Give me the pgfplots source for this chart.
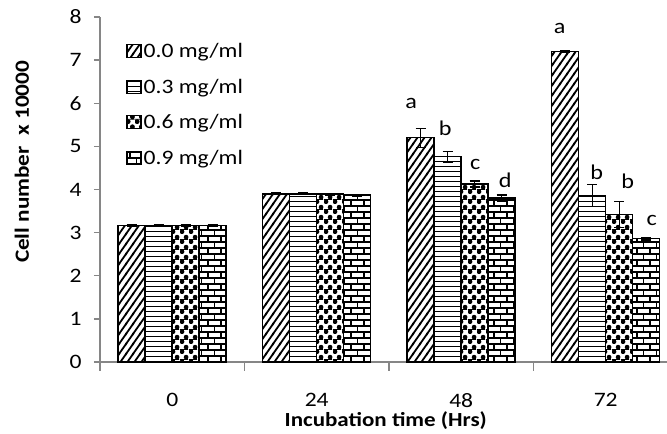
\documentclass[border=0pt]{standalone}
\usepackage{pgfplots}
\pgfplotsset{compat=1.18}
\usepackage{fontspec}
\setmainfont[FakeStretch=1.15]{Carlito}
\usetikzlibrary{patterns}

\pgfdeclarepatternformonly{diagthick}{\pgfqpoint{-1pt}{-2pt}}{\pgfqpoint{8pt}{12pt}}{\pgfqpoint{7pt}{10pt}}{%
  \pgfsetlinewidth{1.8pt}%
  \pgfpathmoveto{\pgfqpoint{-0.7pt}{-1pt}}\pgfpathlineto{\pgfqpoint{7.7pt}{11pt}}\pgfusepath{stroke}}
\pgfdeclarepatternformonly{hlinesb}{\pgfqpoint{-0.5pt}{0pt}}{\pgfqpoint{5.5pt}{5pt}}{\pgfqpoint{5pt}{5pt}}{%
  \pgfsetlinewidth{1.3pt}%
  \pgfpathmoveto{\pgfqpoint{-0.5pt}{2.5pt}}\pgfpathlineto{\pgfqpoint{5.5pt}{2.5pt}}\pgfusepath{stroke}}
\pgfdeclarepatternformonly{bricksb}{\pgfqpoint{-1pt}{-1pt}}{\pgfqpoint{14pt}{13pt}}{\pgfqpoint{13pt}{12pt}}{%
  \pgfsetlinewidth{1.1pt}%
  \pgfpathmoveto{\pgfqpoint{-0.5pt}{0pt}}\pgfpathlineto{\pgfqpoint{13.5pt}{0pt}}%
  \pgfpathmoveto{\pgfqpoint{-0.5pt}{6pt}}\pgfpathlineto{\pgfqpoint{13.5pt}{6pt}}%
  \pgfpathmoveto{\pgfqpoint{0pt}{0pt}}\pgfpathlineto{\pgfqpoint{0pt}{6pt}}%
  \pgfpathmoveto{\pgfqpoint{6.5pt}{6pt}}\pgfpathlineto{\pgfqpoint{6.5pt}{12pt}}%
  \pgfusepath{stroke}}
\pgfdeclarepatternformonly{ballsb}{\pgfqpoint{0pt}{0pt}}{\pgfqpoint{9pt}{10pt}}{\pgfqpoint{9pt}{10pt}}{%
  \pgfpathcircle{\pgfqpoint{2.25pt}{2.5pt}}{2.6pt}%
  \pgfpathcircle{\pgfqpoint{6.75pt}{7.5pt}}{2.6pt}%
  \pgfusepath{fill}%
  \pgfsetlinewidth{0.8pt}%
  \pgfpathmoveto{\pgfqpoint{0pt}{5pt}}\pgfpathlineto{\pgfqpoint{9pt}{5pt}}%
  \pgfusepath{stroke}}

\definecolor{axgray}{HTML}{868686}

\begin{document}
\begin{tikzpicture}
\begin{axis}[name=ax, scale only axis, width=567pt, height=345pt,
  xmin=-0.5, xmax=3.424, ymin=0, ymax=8,
  ybar=0pt, bar width=27pt,
  axis x line*=bottom, axis y line*=left,
  axis line style={draw=axgray, line width=1.3pt},
  every tick/.style={draw=axgray, line width=1.3pt},
  tick align=outside,
  major tick length=6pt, minor tick length=9pt,
  xtick={0,1,2,3}, xticklabels={0,24,48,72},
  major x tick style={draw=none},
  minor xtick={-0.5,0.5,1.5,2.5},
  ytick={0,1,2,3,4,5,6,7,8},
  /pgf/number format/assume math mode=true,
  tick label style={font=\fontsize{20.5}{24}\selectfont, text=black},
  xticklabel style={anchor=north, yshift=-22pt},
  yticklabel style={xshift=-9pt},
  xlabel={Incubation time (Hrs)},
  xlabel style={font=\bfseries\fontsize{20}{24}\selectfont, at={(axis description cs:0.504,0)}, anchor=center, yshift=-59pt},
  ylabel={Cell number\ \ x 10000},
  ylabel style={font=\bfseries\fontsize{20.2}{24}\selectfont, at={(axis description cs:-0.1376,0.58)}, anchor=center, rotate=0},
  legend style={draw=none, fill=none, font=\fontsize{20.5}{24}\selectfont, at={(axis description cs:0.046,0.93)}, anchor=north west, row sep=15.8pt, inner sep=0pt},
  legend cell align=left,
  error bars/y dir=both, error bars/y explicit,
  error bars/error bar style={line width=1.3pt, black},
  error bars/error mark options={rotate=90, mark size=5pt, line width=1.3pt, black},
  clip=false,
]
\addplot[draw=black, line width=1.5pt, pattern=diagthick, pattern color=black,
  legend image code/.code={\draw[draw=black, line width=1.4pt, pattern=diagthick, pattern color=black] (0pt,-6.5pt) rectangle (14pt,6.5pt);}]
  coordinates {(0,3.17) +- (0,0.02) (1,3.90) +- (0,0.02) (2,5.20) +- (0,0.22) (3,7.20) +- (0,0.02)};
\addplot[draw=black, line width=1.5pt, pattern=hlinesb, pattern color=black,
  legend image code/.code={\draw[draw=black, line width=1.4pt, pattern=hlinesb, pattern color=black] (0pt,-6.5pt) rectangle (14pt,6.5pt);}]
  coordinates {(0,3.16) +- (0,0.02) (1,3.90) +- (0,0.02) (2,4.76) +- (0,0.12) (3,3.86) +- (0,0.25)};
\addplot[draw=black, line width=1.5pt, pattern=ballsb, pattern color=black,
  legend image code/.code={\draw[draw=black, line width=1.4pt, pattern=ballsb, pattern color=black] (0pt,-6.5pt) rectangle (14pt,6.5pt);}]
  coordinates {(0,3.17) +- (0,0.02) (1,3.89) +- (0,0.02) (2,4.13) +- (0,0.07) (3,3.42) +- (0,0.30)};
\addplot[draw=black, line width=1.5pt, pattern=bricksb, pattern color=black,
  legend image code/.code={\draw[draw=black, line width=1.4pt, pattern=bricksb, pattern color=black] (0pt,-6.5pt) rectangle (14pt,6.5pt);}]
  coordinates {(0,3.16) +- (0,0.02) (1,3.87) +- (0,0.02) (2,3.80) +- (0,0.07) (3,2.86) +- (0,0.03)};
\legend{0.0 mg/ml, 0.3 mg/ml, 0.6 mg/ml, 0.9 mg/ml}
\begin{scope}[every node/.style={font=\fontsize{21}{25}\selectfont, text=black}]
\node[xshift=-50pt] at (axis cs:2,6.00) {a};
\node[xshift=-16pt] at (axis cs:2,5.43) {b};
\node[xshift=14pt] at (axis cs:2,4.59) {c};
\node[xshift=44pt] at (axis cs:2,4.22) {d};
\node[xshift=-46pt] at (axis cs:3,7.73) {a};
\node[xshift=-9pt] at (axis cs:3,4.39) {b};
\node[xshift=22pt] at (axis cs:3,4.20) {b};
\node[xshift=46pt] at (axis cs:3,3.27) {c};
\end{scope}
\end{axis}
\pgfresetboundingbox
\useasboundingbox ([xshift=-100pt, yshift=-72pt]ax.south west) rectangle ([yshift=17pt]ax.north east);
\end{tikzpicture}
\end{document}
